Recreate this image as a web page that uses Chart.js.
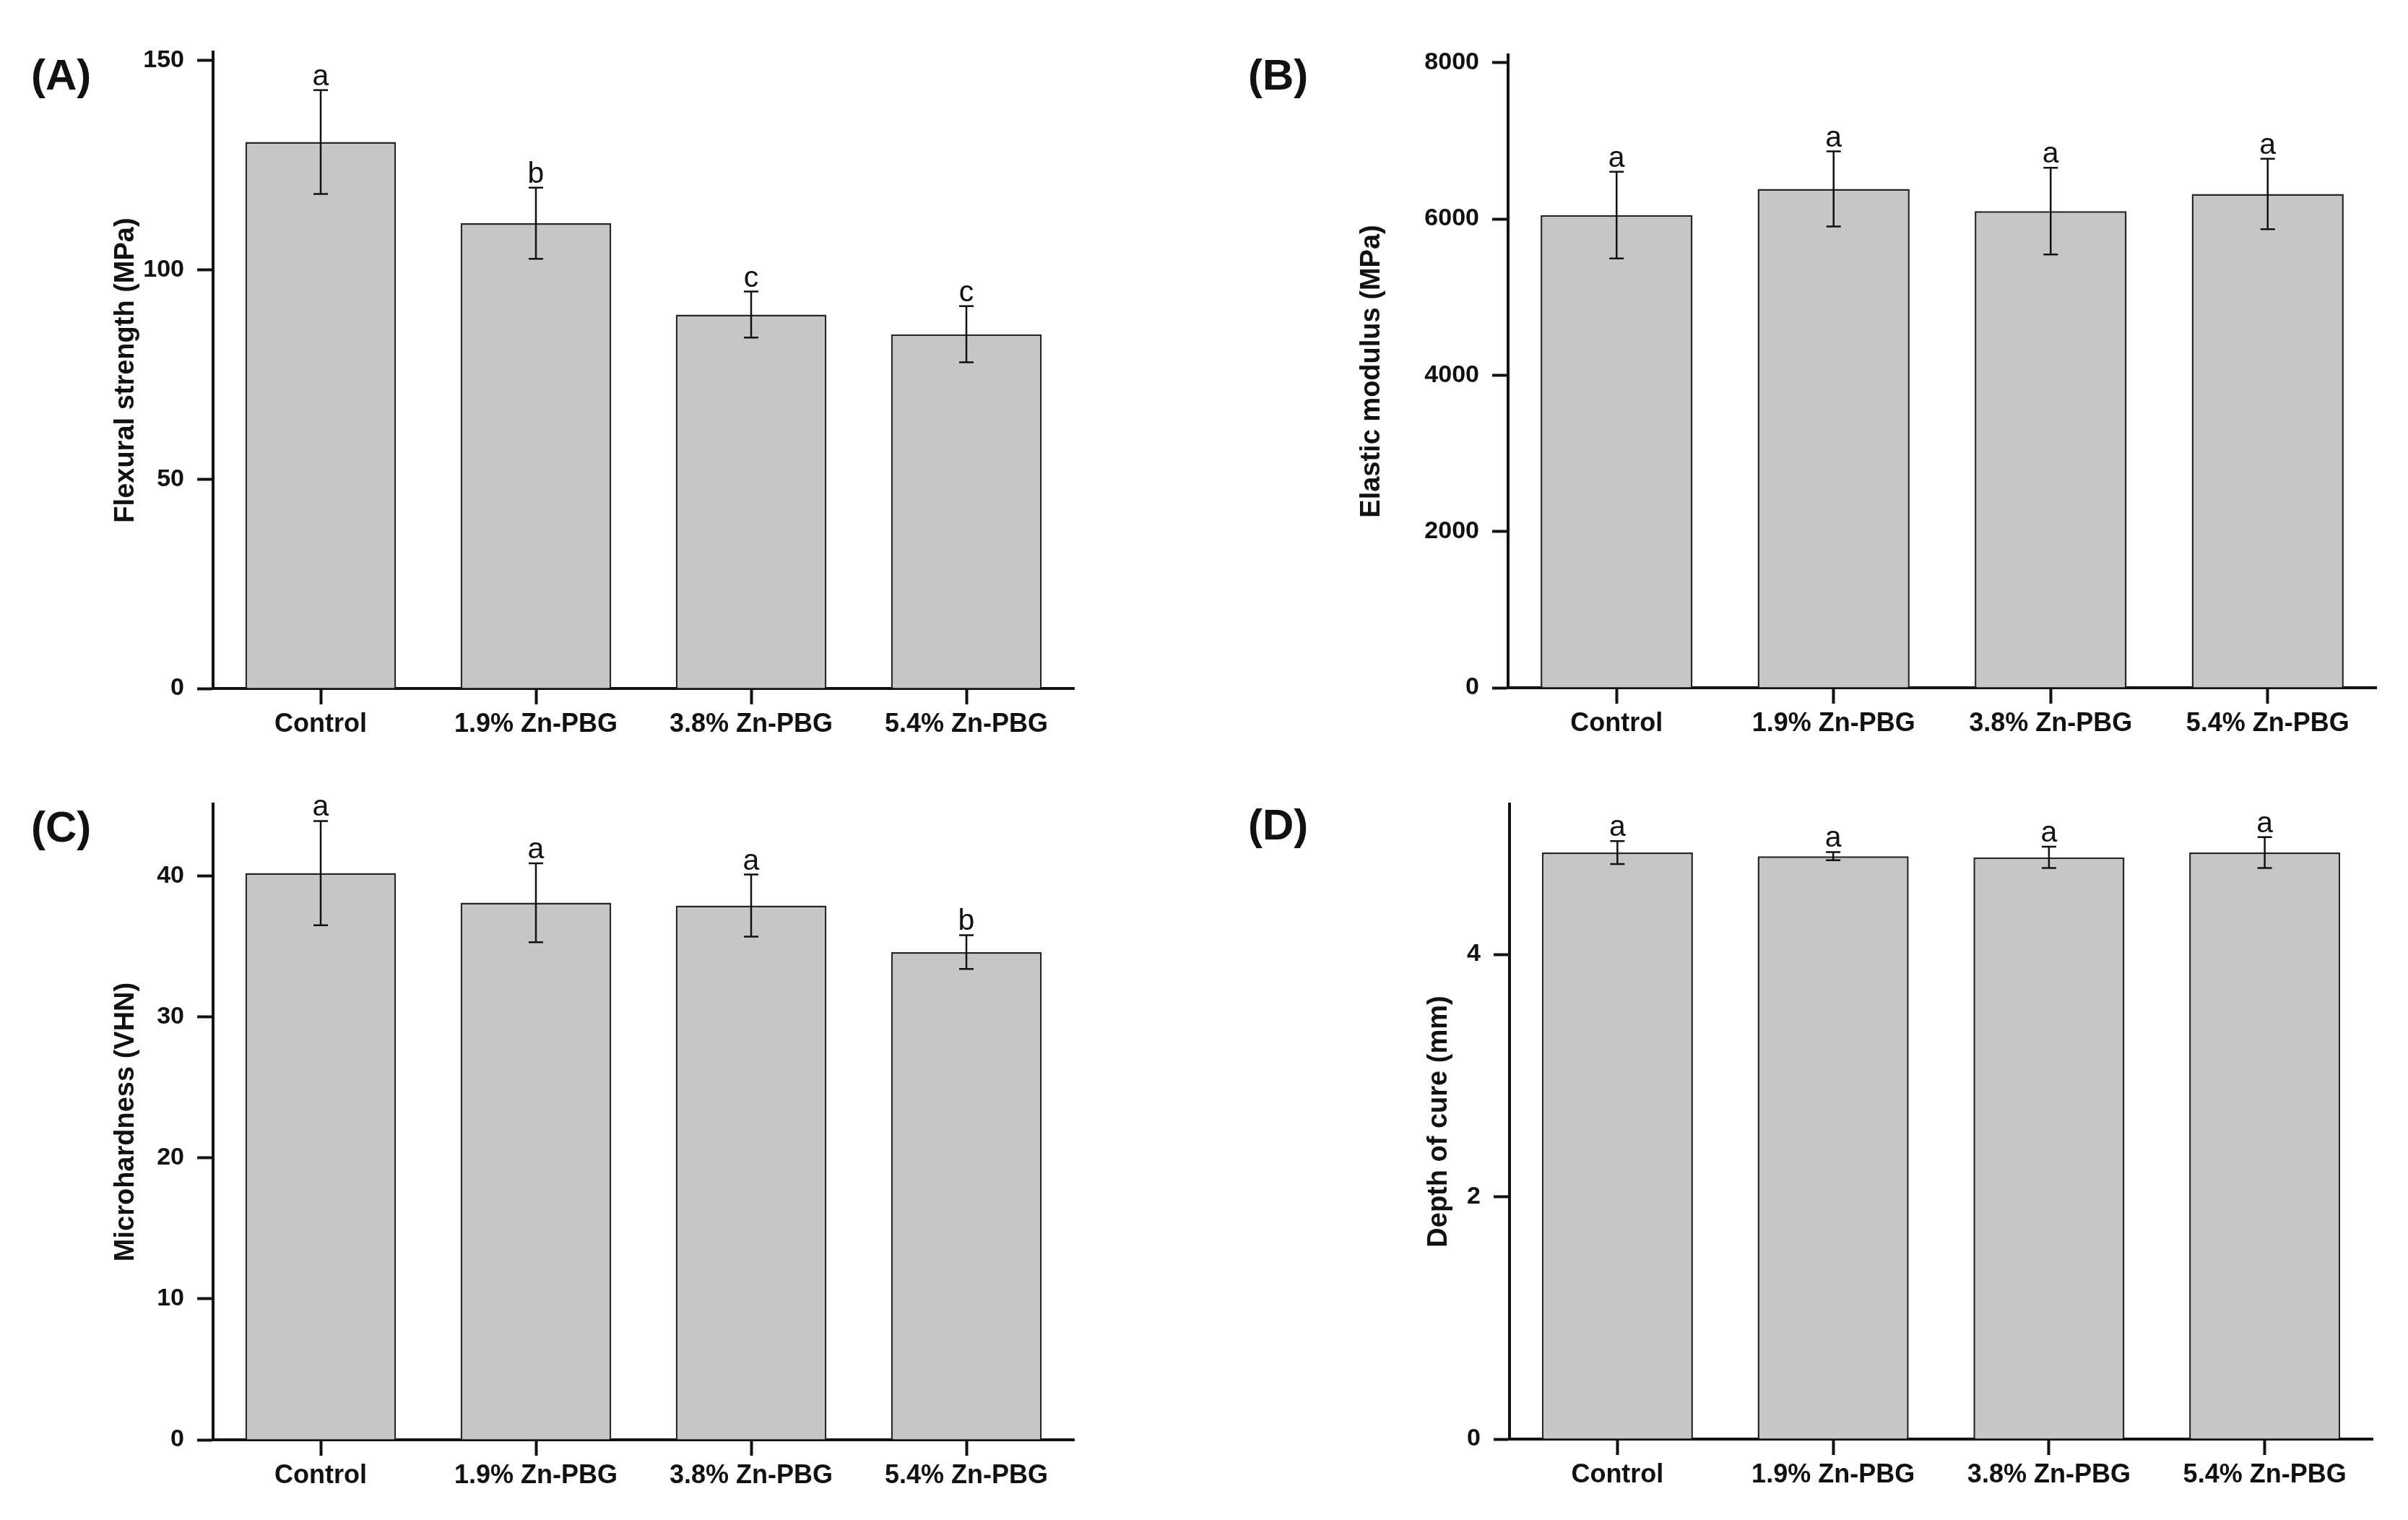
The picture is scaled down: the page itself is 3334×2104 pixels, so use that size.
<!DOCTYPE html>
<html>
<head>
<meta charset="utf-8">
<script src="https://cdn.jsdelivr.net/npm/chart.js@4.4.1/dist/chart.umd.min.js"></script>
<style>
  html, body { margin: 0; padding: 0; background: #fff; overflow: hidden; }
  body { width: 3334px; height: 2104px; position: relative; }
  canvas { position: absolute; }
</style>
</head>
<body>
<canvas id="cA"></canvas>
<canvas id="cB"></canvas>
<canvas id="cC"></canvas>
<canvas id="cD"></canvas>
<script>
// ---------------- DATA ----------------
const categories = ['Control', '1.9% Zn-PBG', '3.8% Zn-PBG', '5.4% Zn-PBG'];

const flexuralMean    = [130.5, 111.1, 89.3, 84.6];
const flexuralSD      = [12.4, 8.5, 5.5, 6.7];
const flexuralLetters = ['a', 'b', 'c', 'c'];
const flexuralTicks   = [0, 50, 100, 150];

const modulusMean    = [6050, 6385, 6100, 6320];
const modulusSD      = [555, 480, 555, 450];
const modulusLetters = ['a', 'a', 'a', 'a'];
const modulusTicks   = [0, 2000, 4000, 6000, 8000];

const hardnessMean    = [40.2, 38.1, 37.9, 34.6];
const hardnessSD      = [3.7, 2.8, 2.2, 1.2];
const hardnessLetters = ['a', 'a', 'a', 'b'];
const hardnessTicks   = [0, 10, 20, 30, 40];

const depthMean    = [4.84, 4.81, 4.80, 4.84];
const depthSD      = [0.095, 0.034, 0.088, 0.127];
const depthLetters = ['a', 'a', 'a', 'a'];
const depthTicks   = [0, 2, 4];

// ---------------- DRAWING ----------------
const FAMILY = '"Liberation Sans", Arial, Helvetica, sans-serif';
const INK = '#111111';

const errPlugin = {
  id: 'errLetters',
  afterDatasetsDraw(chart, args, opts) {
    const ctx = chart.ctx;
    const y = chart.scales.y;
    const meta = chart.getDatasetMeta(0);
    ctx.save();
    ctx.strokeStyle = INK;
    ctx.lineWidth = 2.5;
    ctx.fillStyle = INK;
    ctx.font = '41px ' + FAMILY;
    ctx.textAlign = 'center';
    ctx.textBaseline = 'alphabetic';
    opts.means.forEach((m, i) => {
      const px = meta.data[i].x;
      const yTop = y.getPixelForValue(m + opts.sd[i]);
      const yBot = y.getPixelForValue(m - opts.sd[i]);
      ctx.beginPath();
      ctx.moveTo(px, yTop); ctx.lineTo(px, yBot);
      ctx.moveTo(px - 10, yTop); ctx.lineTo(px + 10, yTop);
      ctx.moveTo(px - 10, yBot); ctx.lineTo(px + 10, yBot);
      ctx.stroke();
      ctx.fillText(opts.letters[i], px, yTop - 7);
    });
    ctx.font = 'bold 60px ' + FAMILY;
    ctx.textAlign = 'left';
    ctx.textBaseline = 'middle';
    ctx.fillText(opts.panel, opts.panelX, opts.panelY);
    ctx.restore();
  }
};

function makePanel(cfg) {
  const cv = document.getElementById(cfg.id);
  cv.width = cfg.cw; cv.height = cfg.ch;
  cv.style.left = cfg.cx + 'px'; cv.style.top = cfg.cy + 'px';
  cv.style.width = cfg.cw + 'px'; cv.style.height = cfg.ch + 'px';
  const areaL = cfg.L - cfg.cx, areaR = cfg.R - cfg.cx;
  const areaT = cfg.T - cfg.cy, areaB = cfg.B - cfg.cy;
  const titleSize = 38, titleLH = 1.2;
  new Chart(cv, {
    type: 'bar',
    data: {
      labels: categories,
      datasets: [{
        data: cfg.means,
        backgroundColor: '#c6c6c6',
        borderColor: '#262626',
        borderWidth: 2.5,
        barPercentage: 0.7,
        categoryPercentage: 1.0
      }]
    },
    options: {
      responsive: false,
      animation: false,
      devicePixelRatio: 1,
      layout: { padding: { left: 0, top: areaT, right: cfg.cw - areaR, bottom: 0 } },
      plugins: {
        legend: { display: false },
        tooltip: { enabled: false },
        errLetters: {
          means: cfg.means, sd: cfg.sd, letters: cfg.letters,
          panel: cfg.panel, panelX: cfg.px - cfg.cx, panelY: cfg.py - cfg.cy
        }
      },
      scales: {
        x: {
          type: 'category',
          offset: true,
          grid: { offset: false, drawOnChartArea: false, drawTicks: true, tickLength: 22, tickWidth: 4, tickColor: INK, color: INK },
          border: { display: true, color: INK, width: 4 },
          ticks: { color: INK, padding: 6, font: { family: FAMILY, size: 36, weight: 'bold' } },
          afterFit: (s) => { s.height = cfg.ch - areaB; }
        },
        y: {
          type: 'linear',
          min: 0,
          max: cfg.max,
          afterBuildTicks: (s) => { s.ticks = cfg.ticks.map(v => ({ value: v })); },
          grid: { drawOnChartArea: false, drawTicks: true, tickLength: 22, tickWidth: 4, tickColor: INK, color: INK },
          border: { display: true, color: INK, width: 4 },
          ticks: { color: INK, padding: 18, font: { family: FAMILY, size: 34, weight: 'bold' }, callback: (v) => String(v) },
          title: {
            display: true, text: cfg.title, color: INK,
            font: { family: FAMILY, size: titleSize, weight: 'bold', lineHeight: titleLH },
            padding: { top: (cfg.titleX - cfg.cx) - titleSize * titleLH / 2, bottom: 0 }
          },
          afterFit: (s) => { s.width = areaL; }
        }
      }
    },
    plugins: [errPlugin]
  });
}

makePanel({ id: 'cA', cx: 0, cy: 0, cw: 1650, ch: 1050, L: 295, R: 1487, T: 72, B: 953,
  max: 152, ticks: flexuralTicks, means: flexuralMean, sd: flexuralSD, letters: flexuralLetters,
  title: 'Flexural strength (MPa)', titleX: 175, panel: '(A)', px: 43, py: 107 });

makePanel({ id: 'cB', cx: 1650, cy: 0, cw: 1684, ch: 1050, L: 2088, R: 3290, T: 76, B: 952,
  max: 8100, ticks: modulusTicks, means: modulusMean, sd: modulusSD, letters: modulusLetters,
  title: 'Elastic modulus (MPa)', titleX: 1900, panel: '(B)', px: 1728, py: 107 });

makePanel({ id: 'cC', cx: 0, cy: 1050, cw: 1650, ch: 1054, L: 295, R: 1487, T: 1113, B: 1993,
  max: 45.1, ticks: hardnessTicks, means: hardnessMean, sd: hardnessSD, letters: hardnessLetters,
  title: 'Microhardness (VHN)', titleX: 175, panel: '(C)', px: 43, py: 1148 });

makePanel({ id: 'cD', cx: 1650, cy: 1050, cw: 1684, ch: 1054, L: 2090, R: 3285, T: 1113, B: 1992,
  max: 5.24, ticks: depthTicks, means: depthMean, sd: depthSD, letters: depthLetters,
  title: 'Depth of cure (mm)', titleX: 1993, panel: '(D)', px: 1728, py: 1145 });
</script>
</body>
</html>
